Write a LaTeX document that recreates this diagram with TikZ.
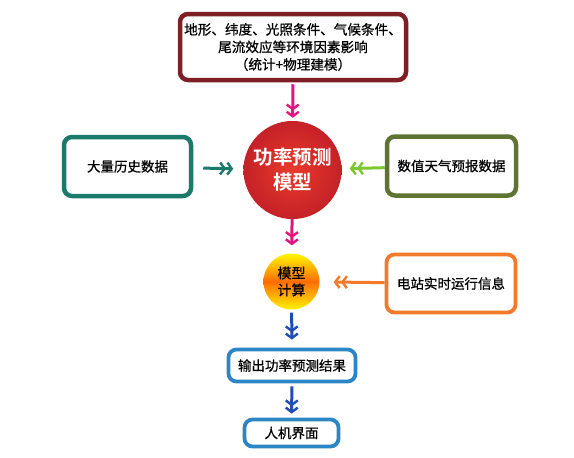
\documentclass[tikz,border=0pt]{standalone}
\usepackage{fontspec}
\newfontfamily\cjk[FakeBold=0.8]{Noto Sans CJK SC}
\newfontfamily\cjkb{Noto Sans CJK SC Bold}
\usetikzlibrary{arrows.meta, shapes.geometric, positioning}

\definecolor{boxred}{HTML}{7E1F26}
\definecolor{boxteal}{HTML}{1B7A6C}
\definecolor{boxolive}{HTML}{5F7432}
\definecolor{boxorange}{HTML}{F27A2A}
\definecolor{boxblue}{HTML}{2C86C6}
\definecolor{arrpink}{HTML}{E2147E}
\definecolor{arrgreen}{HTML}{7DC832}
\definecolor{arrblue}{HTML}{1F4DB4}
\definecolor{ballin}{HTML}{EA3A2A}
\definecolor{ballout}{HTML}{C42128}

\begin{document}
\begin{tikzpicture}[x=1pt, y=-1pt,
                box/.style={rectangle, draw, rounded corners=8pt, line width=4.5pt, fill=white, align=center, font=\cjk\fontsize{13.5}{16}\selectfont},
                flow/.style={line width=3pt, -{Straight Barb[length=4.5pt,width=12pt,line width=2.4pt]Straight Barb[length=4.5pt,width=12pt,line width=2.4pt]}}
            ]
                \useasboundingbox (0,0) rectangle (574,458);

                \node[box, draw=boxred, minimum width=226pt, minimum height=66pt, font=\cjk\fontsize{13.6}{17.5}\selectfont] (factors) at (293,47) {地形、纬度、光照条件、气候条件、\\尾流效应等环境因素影响\\（统计+物理建模）};
                \node[circle, minimum size=98pt, inner color=ballin, outer color=ballout, text=white, align=center, font=\cjkb\fontsize{19.5}{25}\selectfont] (model) at (292.5,170) {功率预测\\模型};
                \node[box, draw=boxteal, minimum width=127pt, minimum height=59pt] (history) at (127.5,166.5) {大量历史数据};
                \node[box, draw=boxolive, minimum width=129pt, minimum height=59pt] (weather) at (451.5,166) {数值天气预报数据};
                \node[circle, minimum size=56pt, top color=yellow!95!orange, bottom color=yellow!90!orange, middle color=orange!85!red, align=center, font=\cjk\fontsize{14}{17}\selectfont] (calc) at (291.5,281.5) {模型\\计算};
                \node[box, draw=boxorange, line width=3.8pt, minimum width=129pt, minimum height=58pt] (station) at (451,283.5) {电站实时运行信息};
                \node[box, draw=boxblue, line width=3.8pt, minimum width=127pt, minimum height=32pt] (output) at (292,365.5) {输出功率预测结果};
                \node[box, draw=boxblue, line width=3.8pt, minimum width=94pt, minimum height=27pt] (hmi) at (291.5,433) {人机界面};

                \draw[flow, draw=arrpink, shorten <=2pt, shorten >=3pt] (factors) -- (model);
                \draw[flow, draw=boxteal, shorten <=10pt, shorten >=10pt] (history) -- (model);
                \draw[flow, draw=arrgreen, shorten >=8pt] (weather) -- (model);
                \draw[flow, draw=arrpink, shorten >=8pt] (model) -- (calc);
                \draw[flow, draw=boxorange, shorten >=14pt] (station) -- (calc);
                \draw[flow, draw=arrblue, shorten <=3pt, shorten >=8pt] (calc) -- (output);
                \draw[flow, draw=arrblue, shorten <=3pt, shorten >=4pt] (output) -- (hmi);
            \end{tikzpicture}
\end{document}
